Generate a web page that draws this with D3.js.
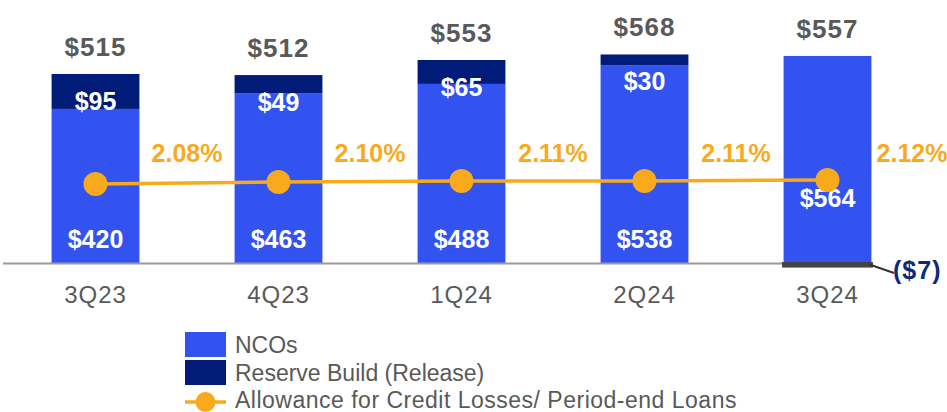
<!DOCTYPE html>
<html>
<head>
<meta charset="utf-8">
<script src="https://cdn.jsdelivr.net/npm/d3@7"></script>
<style>
  html, body { margin: 0; padding: 0; background: #fff; }
  svg { display: block; font-family: "Liberation Sans", Arial, sans-serif; }
</style>
</head>
<body>
<div id="container"></div>
<script>
/* DATA */
const quarters = ["3Q23", "4Q23", "1Q24", "2Q24", "3Q24"];
const ncos = [420, 463, 488, 538, 564];
const reserve = [95, 49, 65, 30, -7];
const totals = [515, 512, 553, 568, 557];
const allowance = [2.08, 2.10, 2.11, 2.11, 2.12];
const legendLabels = ["NCOs", "Reserve Build (Release)", "Allowance for Credit Losses/ Period-end Loans"];

/* CONSTANTS */
const width = 947, height = 412;
const blue = "#3253f0", navy = "#011b79", orange = "#f8aa1c", gray = "#595959";

const svg = d3.select("#container")
  .append("svg")
  .attr("width", width)
  .attr("height", height);

// scales
const xScale = d3.scaleBand()
  .domain(quarters)
  .range([4, 919])
  .paddingInner(0.52)
  .paddingOuter(0.26);

const yScale = d3.scaleLinear()
  .domain([0, 600])
  .range([263.5, 42.7]);

const pctScale = d3.scaleLinear()
  .domain([2.0, 2.2])
  .range([192, 172]);

const bw = xScale.bandwidth();
const cx = q => xScale(q) + bw / 2;

const data = quarters.map((q, i) => ({
  q, i, nco: ncos[i], res: reserve[i], total: totals[i], pct: allowance[i]
}));

// NCO bars
svg.selectAll("rect.nco")
  .data(data)
  .join("rect")
  .attr("class", "nco")
  .attr("x", d => xScale(d.q))
  .attr("width", bw)
  .attr("y", d => yScale(d.nco))
  .attr("height", d => yScale(0) - yScale(d.nco))
  .attr("fill", blue);

// axis line
svg.append("line")
  .attr("x1", 3)
  .attr("x2", xScale("3Q24") + bw - 2)
  .attr("y1", yScale(0))
  .attr("y2", yScale(0))
  .attr("stroke", "#9a9a9a")
  .attr("stroke-width", 2);

// reserve bars (stacked on top when positive, below axis when negative)
svg.selectAll("rect.res")
  .data(data)
  .join("rect")
  .attr("class", "res")
  .attr("x", d => xScale(d.q))
  .attr("width", bw)
  .attr("y", d => d.res >= 0 ? yScale(d.nco + d.res) : yScale(0))
  .attr("height", d => Math.abs(yScale(0) - yScale(d.res)))
  .attr("fill", navy)
  .attr("stroke", d => d.res < 0 ? "#444" : "none")
  .attr("stroke-width", 3);

// category labels
svg.selectAll("text.cat")
  .data(data)
  .join("text")
  .attr("class", "cat")
  .attr("x", d => cx(d.q))
  .attr("y", 303)
  .attr("text-anchor", "middle")
  .attr("fill", gray)
  .style("font-size", "24px")
  .style("letter-spacing", "1px")
  .text(d => d.q);

// totals above bars
svg.selectAll("text.total")
  .data(data)
  .join("text")
  .attr("class", "total")
  .attr("x", d => cx(d.q))
  .attr("y", d => yScale(Math.max(d.nco, d.nco + d.res)) - 18)
  .attr("text-anchor", "middle")
  .attr("fill", gray)
  .style("font-size", "26px")
  .style("font-weight", "bold")
  .style("letter-spacing", "1px")
  .text(d => "$" + d.total);

// reserve labels
svg.selectAll("text.resLabel")
  .data(data.filter(d => d.res > 0))
  .join("text")
  .attr("class", "resLabel")
  .attr("x", d => cx(d.q))
  .attr("y", d => yScale(d.nco + d.res) + 36)
  .attr("text-anchor", "middle")
  .attr("fill", "#fff")
  .style("font-size", "25px")
  .style("font-weight", "bold")
  .text(d => "$" + d.res);

// NCO labels (last one sits just under the line)
svg.selectAll("text.ncoLabel")
  .data(data)
  .join("text")
  .attr("class", "ncoLabel")
  .attr("x", d => cx(d.q))
  .attr("y", d => d.i === data.length - 1 ? pctScale(d.pct) + 27 : yScale(0) - 15.5)
  .attr("text-anchor", "middle")
  .attr("fill", "#fff")
  .style("font-size", "25px")
  .style("font-weight", "bold")
  .text(d => "$" + d.nco);

// negative reserve callout
const neg = data.filter(d => d.res < 0);
svg.selectAll("line.leader")
  .data(neg)
  .join("line")
  .attr("class", "leader")
  .attr("x1", d => xScale(d.q) + bw - 2)
  .attr("y1", yScale(0) + 1)
  .attr("x2", 894)
  .attr("y2", 273)
  .attr("stroke", "#333")
  .attr("stroke-width", 2);

svg.selectAll("text.negLabel")
  .data(neg)
  .join("text")
  .attr("class", "negLabel")
  .attr("x", 893)
  .attr("y", 279)
  .attr("fill", "#0d2a7a")
  .style("font-size", "25px")
  .style("font-weight", "bold")
  .style("letter-spacing", "1px")
  .text(d => "($" + Math.abs(d.res) + ")");

// allowance line
const line = d3.line()
  .x(d => cx(d.q))
  .y(d => pctScale(d.pct));

svg.append("path")
  .datum(data)
  .attr("d", line)
  .attr("fill", "none")
  .attr("stroke", orange)
  .attr("stroke-width", 3.5);

svg.selectAll("circle.dot")
  .data(data)
  .join("circle")
  .attr("class", "dot")
  .attr("cx", d => cx(d.q))
  .attr("cy", d => pctScale(d.pct))
  .attr("r", 12)
  .attr("fill", orange);

svg.selectAll("text.pct")
  .data(data)
  .join("text")
  .attr("class", "pct")
  .attr("x", d => Math.min(cx(d.q) + xScale.step() / 2, width - 35))
  .attr("y", 162)
  .attr("text-anchor", "middle")
  .attr("fill", orange)
  .style("font-size", "25px")
  .style("font-weight", "bold")
  .text(d => d.pct.toFixed(2) + "%");

// legend
const legend = svg.append("g").attr("transform", "translate(185,332)");

legend.append("rect")
  .attr("x", 0).attr("y", 0).attr("width", 41).attr("height", 25)
  .attr("fill", blue);
legend.append("rect")
  .attr("x", 0).attr("y", 28).attr("width", 41).attr("height", 25)
  .attr("fill", navy);
legend.append("line")
  .attr("x1", 0).attr("x2", 41).attr("y1", 70).attr("y2", 70)
  .attr("stroke", orange).attr("stroke-width", 3.5);
legend.append("circle")
  .attr("cx", 20.5).attr("cy", 70).attr("r", 10)
  .attr("fill", orange);

legend.selectAll("text")
  .data(legendLabels)
  .join("text")
  .attr("x", 50)
  .attr("y", (d, i) => 21 + i * 27.5)
  .attr("fill", gray)
  .style("font-size", "23px")
  .style("letter-spacing", (d, i) => i === 2 ? "0.5px" : "0px")
  .text(d => d);
</script>
</body>
</html>
